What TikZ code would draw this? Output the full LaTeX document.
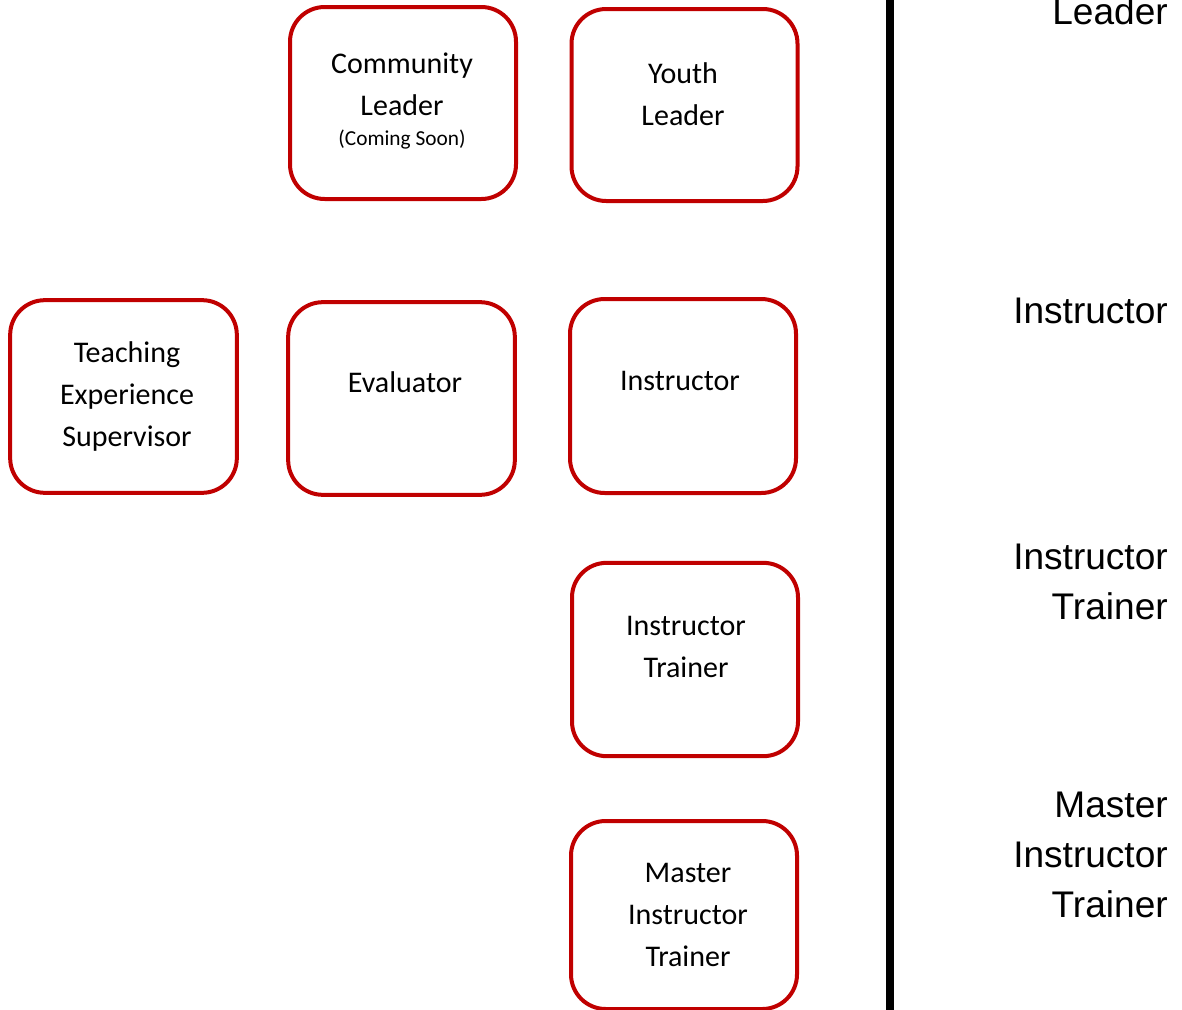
\documentclass[tikz,border=0pt]{standalone}
\usepackage{fontspec}
\setmainfont{Carlito}
\newfontfamily\arialf{Liberation Sans}
\definecolor{boxred}{RGB}{192,0,0}
\begin{document}
\begin{tikzpicture}[x=0.75pt,y=-0.75pt,
  rolebox/.style={draw=boxred, line width=3pt, rounded corners=26pt, fill=white, inner sep=0pt},
  boxtext/.style={align=center, font=\fontsize{22.5}{31.5}\selectfont, inner sep=0pt},
  smalltext/.style={font=\fontsize{16}{18}\selectfont, inner sep=0pt},
  sidetext/.style={align=right, anchor=east, font=\arialf\fontsize{27.8}{37.5}\selectfont, inner sep=0pt}]
\useasboundingbox (0,0) rectangle (1182,1010);
\begin{scope}
\clip (0,0) rectangle (1182,1010);
% boxes
\node[rolebox, minimum width=169.5pt, minimum height=144pt] (cl) at (403,103) {};
\node[rolebox, minimum width=169.5pt, minimum height=144pt] (yl) at (684.5,105) {};
\node[rolebox, minimum width=170pt, minimum height=144.5pt] (tes) at (123.5,396.5) {};
\node[rolebox, minimum width=170pt, minimum height=144.5pt] (ev) at (401.5,398.5) {};
\node[rolebox, minimum width=169.5pt, minimum height=145.5pt] (in) at (683,396) {};
\node[rolebox, minimum width=169.5pt, minimum height=145pt] (it) at (685,659.5) {};
\node[rolebox, minimum width=169.5pt, minimum height=141pt] (mit) at (684,915) {};
% box texts
\node[boxtext] (clt) at (402,84) {Community\\Leader};
\node[smalltext] (cls) at (402,140) {(Coming Soon)};
\node[boxtext] (ylt) at (683,94) {Youth\\Leader};
\node[boxtext] (test) at (127,396) {Teaching\\Experience\\Supervisor};
\node[boxtext] (evt) at (405,382) {Evaluator};
\node[boxtext] (int) at (680,381) {Instructor};
\node[boxtext] (itt) at (686,647) {Instructor\\Trainer};
\node[boxtext] (mitt) at (688,915) {Master\\Instructor\\Trainer};
% divider
\coordinate (dtop) at (890,-5);
\coordinate (dbot) at (890,1015);
\draw[line width=6pt] (dtop) -- (dbot);
% side labels
\node[sidetext] (sl1) at (1168,11) {Leader};
\node[sidetext] (sl2) at (1168,311) {Instructor};
\node[sidetext] (sl3) at (1168,582) {Instructor\\Trainer};
\node[sidetext] (sl4) at (1168,855) {Master\\Instructor\\Trainer};
\end{scope}
\end{tikzpicture}
\end{document}
